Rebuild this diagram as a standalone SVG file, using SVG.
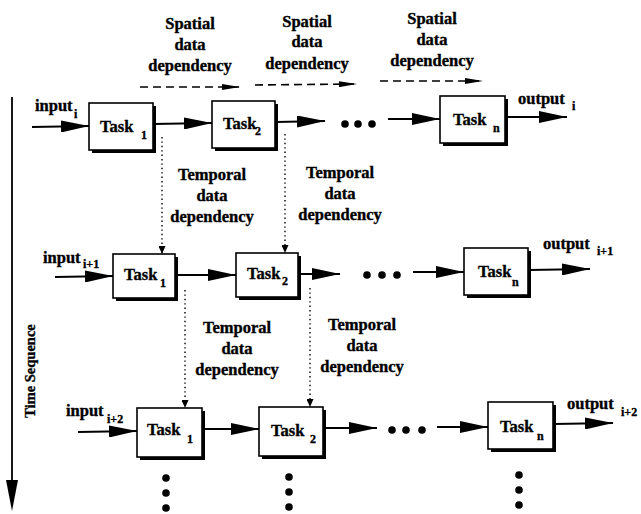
<svg xmlns="http://www.w3.org/2000/svg" width="641" height="514" viewBox="0 0 641 514">
<style>
text{font-family:"Liberation Serif","Times New Roman",serif;font-weight:bold;fill:#000;stroke:#000;stroke-width:0.35}
.t{font-size:16.5px}
.s{font-size:12px}
.c{text-anchor:middle}
.box{fill:#fff;stroke:#000;stroke-width:1.6}
.sh{fill:#000}
.ln{stroke:#000;stroke-width:1.8;fill:none;marker-end:url(#ah)}
.ds{stroke:#000;stroke-width:1.6;fill:none;stroke-dasharray:8 5;marker-end:url(#dh)}
.dt{stroke:#000;stroke-width:1.4;fill:none;stroke-dasharray:1.4 3;marker-end:url(#th)}
.dot{fill:#000}
</style>
<defs>
<marker id="ah" markerUnits="userSpaceOnUse" viewBox="0 0 28 12" markerWidth="28" markerHeight="12" refX="28" refY="6" orient="auto"><path d="M0,0 L28,6 L0,12 z" fill="#000"/></marker>
<marker id="dh" markerUnits="userSpaceOnUse" viewBox="0 0 18 6" markerWidth="18" markerHeight="6" refX="18" refY="3" orient="auto"><path d="M0,0 L18,3 L0,6 z" fill="#000"/></marker>
<marker id="th" markerUnits="userSpaceOnUse" viewBox="0 0 8 7" markerWidth="8" markerHeight="7" refX="8" refY="3.5" orient="auto"><path d="M0,0 L8,3.5 L0,7 z" fill="#000"/></marker>
</defs>

<!-- Time axis -->
<g id="time-axis">
<line x1="12" y1="97" x2="12" y2="485" stroke="#000" stroke-width="1.8"/>
<path d="M6,480 L18,480 L12,511 z" fill="#000"/>
<text class="c" font-size="14.5" transform="translate(35,371) rotate(-90)">Time Sequence</text>
</g>

<!-- Spatial labels -->
<g id="spatial-labels">
<text class="t c" x="190" y="29">Spatial</text>
<text class="t c" x="190" y="50">data</text>
<text class="t c" x="190" y="71">dependency</text>
<text class="t c" x="307" y="27">Spatial</text>
<text class="t c" x="307" y="47">data</text>
<text class="t c" x="307" y="69">dependency</text>
<text class="t c" x="432" y="24">Spatial</text>
<text class="t c" x="432" y="45">data</text>
<text class="t c" x="432" y="66">dependency</text>
</g>

<!-- Temporal labels -->
<g id="temporal-labels">
<text class="t c" x="212" y="180">Temporal</text>
<text class="t c" x="212" y="201">data</text>
<text class="t c" x="212" y="222">dependency</text>
<text class="t c" x="340" y="178">Temporal</text>
<text class="t c" x="340" y="199">data</text>
<text class="t c" x="340" y="220">dependency</text>
<text class="t c" x="237" y="333">Temporal</text>
<text class="t c" x="237" y="354">data</text>
<text class="t c" x="237" y="375">dependency</text>
<text class="t c" x="362" y="330">Temporal</text>
<text class="t c" x="362" y="351">data</text>
<text class="t c" x="362" y="372">dependency</text>
</g>

<!-- I/O labels -->
<g id="io-labels">
<text class="t" x="35" y="111">input</text><text class="s" x="74" y="118">i</text>
<text class="t" x="518" y="104">output</text><text class="s" x="572" y="110">i</text>
<text class="t" x="43" y="263">input</text><text class="s" x="83" y="268">i+1</text>
<text class="t" x="543" y="249">output</text><text class="s" x="597" y="255">i+1</text>
<text class="t" x="66" y="416">input</text><text class="s" x="107" y="423">i+2</text>
<text class="t" x="567" y="409">output</text><text class="s" x="621" y="416">i+2</text>
</g>

<!-- Row 1 -->
<g id="task1-1"><rect class="sh" x="92" y="106" width="64" height="47"/><rect class="box" x="89" y="103" width="64" height="47"/><text class="t" x="100" y="132">Task</text><text class="s" x="141" y="139">1</text></g>
<g id="task1-2"><rect class="sh" x="215" y="104" width="63" height="47"/><rect class="box" x="212" y="101" width="63" height="47"/><text class="t" x="223" y="129">Task</text><text class="s" x="255" y="135">2</text></g>
<g id="task1-n"><rect class="sh" x="443" y="99" width="65" height="47"/><rect class="box" x="440" y="96" width="65" height="47"/><text class="t" x="453" y="125">Task</text><text class="s" x="493" y="132">n</text></g>

<!-- Row 2 -->
<g id="task2-1"><rect class="sh" x="116" y="257" width="62" height="44"/><rect class="box" x="113" y="254" width="62" height="44"/><text class="t" x="124" y="280">Task</text><text class="s" x="160" y="287">1</text></g>
<g id="task2-2"><rect class="sh" x="239" y="256" width="62" height="44"/><rect class="box" x="236" y="253" width="62" height="44"/><text class="t" x="247" y="279">Task</text><text class="s" x="282" y="285">2</text></g>
<g id="task2-n"><rect class="sh" x="467" y="251" width="64" height="47"/><rect class="box" x="464" y="248" width="64" height="47"/><text class="t" x="478" y="277">Task</text><text class="s" x="512" y="286">n</text></g>

<!-- Row 3 -->
<g id="task3-1"><rect class="sh" x="140" y="411" width="65" height="49"/><rect class="box" x="137" y="408" width="65" height="49"/><text class="t" x="147" y="435">Task</text><text class="s" x="187" y="443">1</text></g>
<g id="task3-2"><rect class="sh" x="262" y="410" width="64" height="49"/><rect class="box" x="259" y="407" width="64" height="49"/><text class="t" x="271" y="436">Task</text><text class="s" x="310" y="443">2</text></g>
<g id="task3-n"><rect class="sh" x="491" y="405" width="65" height="47"/><rect class="box" x="488" y="402" width="65" height="47"/><text class="t" x="500" y="432">Task</text><text class="s" x="537" y="440">n</text></g>

<!-- Connectors -->
<g id="connectors">
<path class="ds" d="M140,87 L240,87"/>
<path class="ds" d="M255,85 L357,84"/>
<path class="ds" d="M380,81 L483,81"/>
<path class="ln" d="M32,127 L89,126"/>
<path class="ln" d="M153,124 L212,123"/>
<path class="ln" d="M276,122 L325,121"/>
<path class="ln" d="M388,119 L440,119"/>
<path class="ln" d="M506,117 L567,117"/>
<path class="ln" d="M55,277 L113,276"/>
<path class="ln" d="M176,275 L236,275"/>
<path class="ln" d="M299,274 L340,274"/>
<path class="ln" d="M413,272 L464,272"/>
<path class="ln" d="M529,270 L590,269"/>
<path class="ln" d="M78,432 L137,431"/>
<path class="ln" d="M203,429 L259,429"/>
<path class="ln" d="M324,428 L377,428"/>
<path class="ln" d="M437,427 L488,427"/>
<path class="ln" d="M554,424 L613,423"/>
<path class="dt" d="M162,137 L162,254"/>
<path class="dt" d="M285,134 L285,253"/>
<path class="dt" d="M185,290 L185,408"/>
<path class="dt" d="M310,288 L310,407"/>
<circle class="dot" cx="345" cy="124" r="3.8"/><circle class="dot" cx="358" cy="124" r="3.8"/><circle class="dot" cx="372" cy="124" r="3.8"/>
<circle class="dot" cx="367" cy="275" r="3.8"/><circle class="dot" cx="382" cy="275" r="3.8"/><circle class="dot" cx="397" cy="275" r="3.8"/>
<circle class="dot" cx="392" cy="430" r="3.8"/><circle class="dot" cx="406" cy="430" r="3.8"/><circle class="dot" cx="422" cy="430" r="3.8"/>
<circle class="dot" cx="166" cy="478" r="3.8"/><circle class="dot" cx="166" cy="493" r="3.8"/><circle class="dot" cx="166" cy="508" r="3.8"/>
<circle class="dot" cx="289" cy="477" r="3.8"/><circle class="dot" cx="289" cy="492" r="3.8"/><circle class="dot" cx="289" cy="507" r="3.8"/>
<circle class="dot" cx="519" cy="475" r="3.8"/><circle class="dot" cx="519" cy="490" r="3.8"/><circle class="dot" cx="519" cy="505" r="3.8"/>
</g>
</svg>
